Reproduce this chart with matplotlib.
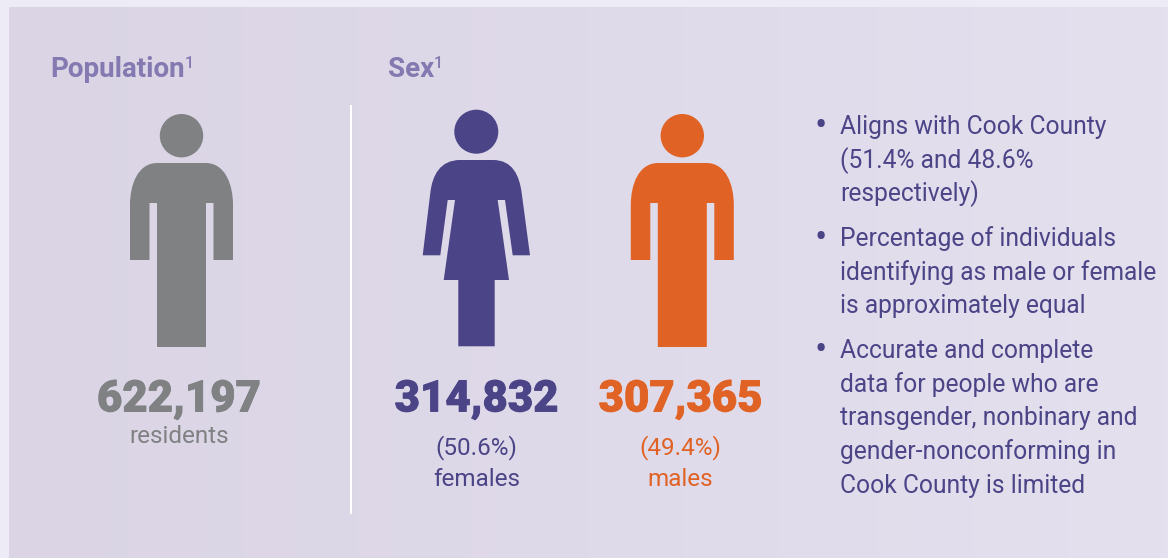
import numpy as np
import matplotlib
matplotlib.use('Agg')
import matplotlib.pyplot as plt
import matplotlib.patheffects as pe
from matplotlib.path import Path
from matplotlib.patches import PathPatch, Circle, Rectangle

GREY = '#7f8183'
PURPLE = '#4b4487'
ORANGE = '#e06325'
TITLE = '#8479b0'
FONT = 'Roboto'

titles = ['Population', 'Sex']
counts = ['622,197', '314,832', '307,365']
count_colors = [GREY, PURPLE, ORANGE]
shares = ['', '(50.6%)', '(49.4%)']
labels = ['residents', 'females', 'males']
bullets = [
    ['Aligns with Cook County', '(51.4% and 48.6%', 'respectively)'],
    ['Percentage of individuals', 'identifying as male or female', 'is approximately equal'],
    ['Accurate and complete', 'data for people who are', 'transgender, nonbinary and',
     'gender-nonconforming in', 'Cook County is limited'],
]


def man(ax, cx, color):
    # half outline is mirrored, y is pixels
    ax.add_patch(Circle((cx, 135.7), 21.7, fc=color, ec='none'))
    verts = [(cx - 24, 163), (cx - 44, 163), (cx - 51.5, 185), (cx - 51.5, 205),
             (cx - 51.5, 260), (cx - 32, 260), (cx - 32, 203), (cx - 24.5, 203),
             (cx - 24.5, 347), (cx + 24.5, 347), (cx + 24.5, 203), (cx + 32, 203),
             (cx + 32, 260), (cx + 51.5, 260), (cx + 51.5, 205),
             (cx + 51.5, 185), (cx + 44, 163), (cx + 24, 163), (cx - 24, 163)]
    codes = [Path.MOVETO, Path.CURVE4, Path.CURVE4, Path.CURVE4] + [Path.LINETO] * 11 \
        + [Path.CURVE4, Path.CURVE4, Path.CURVE4, Path.CLOSEPOLY]
    ax.add_patch(PathPatch(Path(verts, codes), fc=color, ec='none'))


def woman(ax, cx, color):
    ax.add_patch(Circle((cx, 131.7), 22, fc=color, ec='none'))
    verts = [(cx - 16, 160), (cx - 36, 160), (cx - 44, 175), (cx - 46, 193),
             (cx - 53.6, 255.3), (cx - 36, 255.3), (cx - 28.6, 200), (cx - 21.3, 200),
             (cx - 32.6, 280), (cx - 18, 280), (cx - 18, 346.3), (cx + 18.4, 346.3),
             (cx + 18.4, 280), (cx + 32.7, 280), (cx + 21.4, 200), (cx + 28.7, 200),
             (cx + 36.4, 255.3), (cx + 53.7, 255.3), (cx + 45.4, 193),
             (cx + 43, 175), (cx + 36, 160), (cx + 16.7, 160), (cx - 16, 160)]
    codes = [Path.MOVETO, Path.CURVE4, Path.CURVE4, Path.CURVE4] + [Path.LINETO] * 15 \
        + [Path.CURVE4, Path.CURVE4, Path.CURVE4, Path.CLOSEPOLY]
    ax.add_patch(PathPatch(Path(verts, codes), fc=color, ec='none'))


fig = plt.figure(figsize=(11.68, 5.58), dpi=100, facecolor='#edebf5')
ax = fig.add_axes([0, 0, 1, 1])
ax.axis('off')

# panel with soft left to right gradient
grad = np.linspace(0, 1, 256).reshape(1, -1)
cmap = matplotlib.colors.LinearSegmentedColormap.from_list('bg', ['#dad4e5', '#e4e0ee'])
ax.imshow(grad, extent=(9, 1168, 558, 7), cmap=cmap, aspect='auto', zorder=0)
ax.set_xlim(0, 1168)
ax.set_ylim(558, 0)

ax.add_patch(Rectangle((349.5, 105), 2.7, 409, fc='white', ec='none'))

ax.text(50, 69.5, titles[0], color=TITLE, fontsize=20, fontweight='bold', family=FONT, va='center')
ax.text(185, 63, '1', color=TITLE, fontsize=11.5, fontweight='medium', family=FONT, va='center')
ax.text(388, 69.5, titles[1], color=TITLE, fontsize=20, fontweight='bold', family=FONT, va='center')
ax.text(434, 63, '1', color=TITLE, fontsize=11.5, fontweight='medium', family=FONT, va='center')

man(ax, 181.5, GREY)
woman(ax, 476.3, PURPLE)
man(ax, 682.3, ORANGE)

count_x = [179, 476.5, 680.5]
for x, c, col in zip(count_x, counts, count_colors):
    t = ax.text(x, 399.5, c, color=col, fontsize=31.5, fontweight='black', family=FONT, ha='center', va='center')
    t.set_path_effects([pe.withStroke(linewidth=0.6, foreground=col)])

ax.text(179, 436.5, labels[0], color=GREY, fontsize=17.5, family=FONT, ha='center', va='center')
ax.text(476.5, 447.5, shares[1], color=PURPLE, fontsize=17.5, family=FONT, ha='center', va='center')
ax.text(476.5, 480, labels[1], color=PURPLE, fontsize=17.5, family=FONT, ha='center', va='center')
ax.text(680.5, 447.5, shares[2], color=ORANGE, fontsize=17.5, family=FONT, ha='center', va='center')
ax.text(680.5, 480, labels[2], color=ORANGE, fontsize=17.5, family=FONT, ha='center', va='center')

line_y = [[127, 160.5, 194], [239, 273, 306.5], [351, 385, 418, 451.5, 485.5]]
for group, ys in zip(bullets, line_y):
    ax.text(821, ys[0], '•', color=PURPLE, fontsize=26, family=FONT, ha='center', va='center')
    for line, y in zip(group, ys):
        ax.text(840, y, line, color=PURPLE, fontsize=17.7, family=FONT, va='center')

fig.savefig('out.png', dpi=100)
